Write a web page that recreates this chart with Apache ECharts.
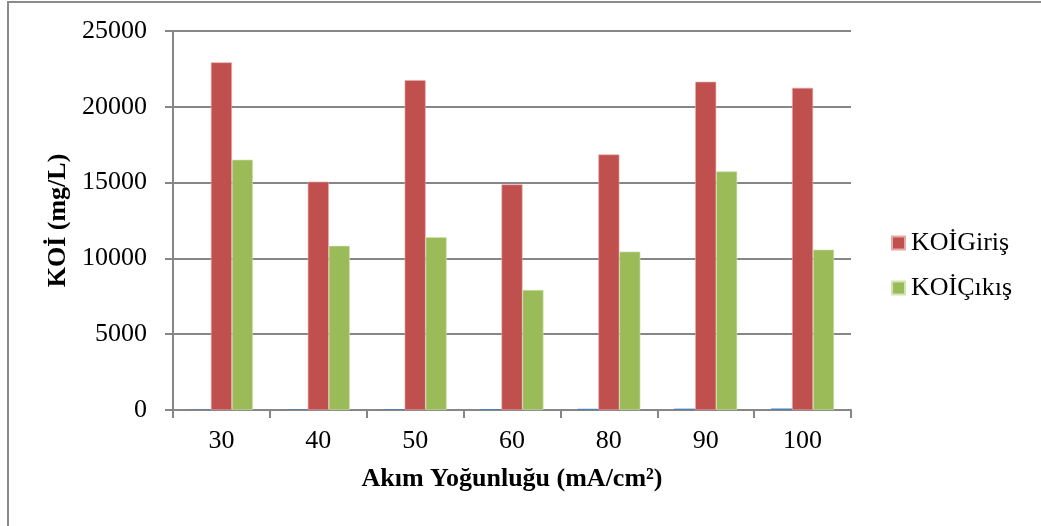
<!DOCTYPE html>
<html>
<head>
<meta charset="utf-8">
<script src="https://cdn.jsdelivr.net/npm/echarts@6/dist/echarts.min.js"></script>
<style>
html,body{margin:0;padding:0;background:#fff;}
#chart{width:1041px;height:526px;}
</style>
</head>
<body>
<div id="chart"></div>
<script>
var categories = ['30', '40', '50', '60', '80', '90', '100'];
var akimValues = [30, 40, 50, 60, 80, 90, 100];
var koiGiris = [22930, 15060, 21760, 14880, 16850, 21650, 21250];
var koiCikis = [16510, 10830, 11400, 7920, 10450, 15740, 10580];
var yTicks = [0, 5000, 10000, 15000, 20000, 25000];

var FONT = '"Liberation Serif", "Times New Roman", serif';
var chart = echarts.init(document.getElementById('chart'), null, {renderer: 'canvas'});
chart.setOption({
  animation: false,
  backgroundColor: '#ffffff',
  graphic: [{
    type: 'rect',
    shape: {x: 8, y: 2, width: 1200, height: 700},
    style: {fill: 'none', stroke: '#8a8a8a', lineWidth: 2},
    silent: true
  }],
  grid: {left: 173, right: 190, top: 31, bottom: 116, containLabel: false},
  legend: {
    data: ['KOİGiriş', 'KOİÇıkış'],
    orient: 'vertical',
    left: 891,
    top: 230,
    padding: 0,
    itemWidth: 13,
    itemHeight: 13,
    itemGap: 19,
    icon: 'rect',
    textStyle: {fontFamily: FONT, fontSize: 26, color: '#000', padding: [0, 0, 0, 1]}
  },
  xAxis: {
    type: 'category',
    data: categories,
    name: 'Akım Yoğunluğu (mA/cm²)',
    nameLocation: 'middle',
    nameGap: 56,
    nameTextStyle: {fontFamily: FONT, fontSize: 26, fontWeight: 'bold', color: '#000'},
    axisLine: {lineStyle: {color: '#868686', width: 2}},
    axisTick: {show: true, alignWithLabel: false, length: 8, lineStyle: {color: '#868686', width: 2}},
    axisLabel: {fontFamily: FONT, fontSize: 26, color: '#000', margin: 18},
    splitLine: {show: false}
  },
  yAxis: {
    type: 'value',
    min: yTicks[0],
    max: yTicks[yTicks.length - 1],
    interval: yTicks[1] - yTicks[0],
    name: 'KOİ (mg/L)',
    nameLocation: 'middle',
    nameRotate: 90,
    nameGap: 99,
    nameTextStyle: {fontFamily: FONT, fontSize: 26, fontWeight: 'bold', color: '#000'},
    axisLine: {show: true, lineStyle: {color: '#868686', width: 2}},
    axisTick: {show: true, length: 8, lineStyle: {color: '#868686', width: 2}},
    axisLabel: {fontFamily: FONT, fontSize: 26, color: '#000', margin: 26,
      formatter: function (v) { return String(v); }},
    splitLine: {show: true, lineStyle: {color: '#868686', width: 2}}
  },
  series: [
    {
      name: 'Akım Yoğunluğu',
      type: 'bar',
      data: akimValues,
      barGap: '0%',
      barCategoryGap: '35%',
      itemStyle: {color: '#4F81BD'}
    },
    {
      name: 'KOİGiriş',
      type: 'bar',
      data: koiGiris,
      barGap: '0%',
      barCategoryGap: '35%',
      itemStyle: {color: '#C0504D', borderColor: '#e7a9a7', borderWidth: 0.6}
    },
    {
      name: 'KOİÇıkış',
      type: 'bar',
      data: koiCikis,
      barGap: '0%',
      barCategoryGap: '35%',
      itemStyle: {color: '#9BBB59', borderColor: '#d2e3b4', borderWidth: 0.6}
    }
  ]
});
</script>
</body>
</html>
